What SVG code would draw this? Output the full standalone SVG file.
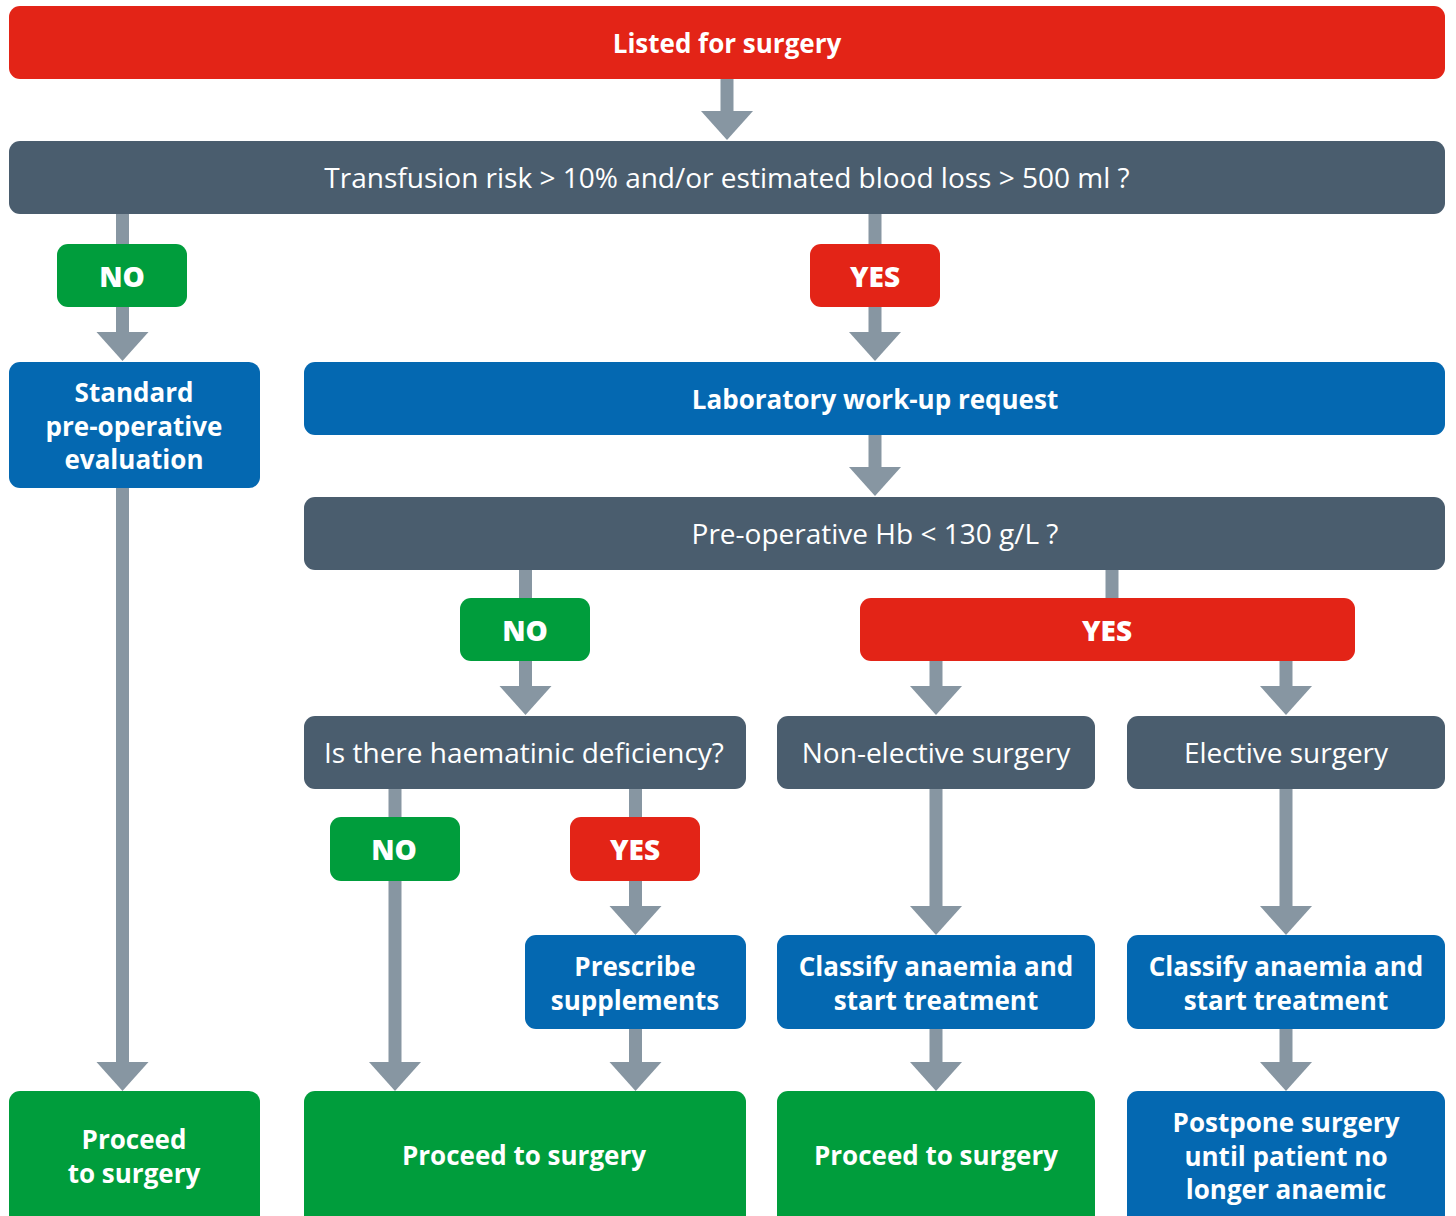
<svg xmlns="http://www.w3.org/2000/svg" width="1456" height="1216" viewBox="0 0 1456 1216">
<defs>
<marker id="ah" markerUnits="userSpaceOnUse" markerWidth="30" markerHeight="54" viewBox="0 -27 30 54" refX="0" refY="0" orient="auto">
<path d="M0,-26 L29,0 L0,26 z" fill="#8796A2"/>
</marker>
<style>
.red{fill:#E32417}
.slate{fill:#4A5D6E}
.blue{fill:#0468B1}
.green{fill:#009D3C}
.conn line{stroke:#8796A2;stroke-width:13;fill:none}
.arr{marker-end:url(#ah)}
text{font-family:"Open Sans","Noto Sans","Liberation Sans",sans-serif;fill:#fff;text-anchor:middle}
.b{font-weight:bold;font-size:26px}
.r{font-size:28px}
.badge{font-weight:800;font-size:28px}
</style>
</defs>
<rect width="1456" height="1216" fill="#fff"/>
<g id="connectors" class="conn">
<line class="arr" x1="727" y1="79" x2="727" y2="111"/>
<line class="arr" x1="122.5" y1="214" x2="122.5" y2="332"/>
<line class="arr" x1="875" y1="214" x2="875" y2="332"/>
<line class="arr" x1="875" y1="435" x2="875" y2="467"/>
<line class="arr" x1="122.5" y1="488" x2="122.5" y2="1062"/>
<line class="arr" x1="525.5" y1="570" x2="525.5" y2="686"/>
<line x1="1112" y1="570" x2="1112" y2="600"/>
<line class="arr" x1="936" y1="661" x2="936" y2="686"/>
<line class="arr" x1="1286" y1="661" x2="1286" y2="686"/>
<line class="arr" x1="395" y1="789" x2="395" y2="1062"/>
<line class="arr" x1="635.5" y1="789" x2="635.5" y2="906"/>
<line class="arr" x1="936" y1="789" x2="936" y2="906"/>
<line class="arr" x1="1286" y1="789" x2="1286" y2="906"/>
<line class="arr" x1="635.5" y1="1029" x2="635.5" y2="1062"/>
<line class="arr" x1="936" y1="1029" x2="936" y2="1062"/>
<line class="arr" x1="1286" y1="1029" x2="1286" y2="1062"/>
</g>
<g id="listed"><rect class="red" x="9" y="6" width="1436" height="73" rx="11"/><text class="b" x="727" y="53">Listed for surgery</text></g>
<g id="transfusion"><rect class="slate" x="9" y="141" width="1436" height="73" rx="11"/><text class="r" x="727" y="188">Transfusion risk &gt; 10% and/or estimated blood loss &gt; 500 ml ?</text></g>
<g id="no1"><rect class="green" x="57" y="244" width="130" height="63" rx="11"/><text class="badge" x="122" y="287">NO</text></g>
<g id="yes1"><rect class="red" x="810" y="244" width="130" height="63" rx="11"/><text class="badge" x="875" y="287">YES</text></g>
<g id="standard"><rect class="blue" x="9" y="362" width="251" height="126" rx="11"/><text class="b" x="134" y="402">Standard</text><text class="b" x="134" y="436">pre-operative</text><text class="b" x="134" y="469">evaluation</text></g>
<g id="lab"><rect class="blue" x="304" y="362" width="1141" height="73" rx="11"/><text class="b" x="875" y="409">Laboratory work-up request</text></g>
<g id="hb"><rect class="slate" x="304" y="497" width="1141" height="73" rx="11"/><text class="r" x="875" y="544">Pre-operative Hb &lt; 130 g/L ?</text></g>
<g id="no2"><rect class="green" x="460" y="598" width="130" height="63" rx="11"/><text class="badge" x="525" y="641">NO</text></g>
<g id="yes2"><rect class="red" x="860" y="598" width="495" height="63" rx="11"/><text class="badge" x="1107" y="641">YES</text></g>
<g id="haematinic"><rect class="slate" x="304" y="716" width="442" height="73" rx="11"/><text class="r" x="524" y="763">Is there haematinic deficiency?</text></g>
<g id="nonelective"><rect class="slate" x="777" y="716" width="318" height="73" rx="11"/><text class="r" x="936" y="763">Non-elective surgery</text></g>
<g id="elective"><rect class="slate" x="1127" y="716" width="318" height="73" rx="11"/><text class="r" x="1286" y="763">Elective surgery</text></g>
<g id="no3"><rect class="green" x="330" y="817" width="130" height="64" rx="11"/><text class="badge" x="394" y="860">NO</text></g>
<g id="yes3"><rect class="red" x="570" y="817" width="130" height="64" rx="11"/><text class="badge" x="635" y="860">YES</text></g>
<g id="prescribe"><rect class="blue" x="525" y="935" width="221" height="94" rx="11"/><text class="b" x="635" y="976">Prescribe</text><text class="b" x="635" y="1010">supplements</text></g>
<g id="classify1"><rect class="blue" x="777" y="935" width="318" height="94" rx="11"/><text class="b" x="936" y="976">Classify anaemia and</text><text class="b" x="936" y="1010">start treatment</text></g>
<g id="classify2"><rect class="blue" x="1127" y="935" width="318" height="94" rx="11"/><text class="b" x="1286" y="976">Classify anaemia and</text><text class="b" x="1286" y="1010">start treatment</text></g>
<g id="proceed1"><rect class="green" x="9" y="1091" width="251" height="135" rx="11"/><text class="b" x="134" y="1149">Proceed</text><text class="b" x="134" y="1183">to surgery</text></g>
<g id="proceed2"><rect class="green" x="304" y="1091" width="442" height="135" rx="11"/><text class="b" x="524" y="1165">Proceed to surgery</text></g>
<g id="proceed3"><rect class="green" x="777" y="1091" width="318" height="135" rx="11"/><text class="b" x="936" y="1165">Proceed to surgery</text></g>
<g id="postpone"><rect class="blue" x="1127" y="1091" width="318" height="135" rx="11"/><text class="b" x="1286" y="1132">Postpone surgery</text><text class="b" x="1286" y="1166">until patient no</text><text class="b" x="1286" y="1199">longer anaemic</text></g>
</svg>
